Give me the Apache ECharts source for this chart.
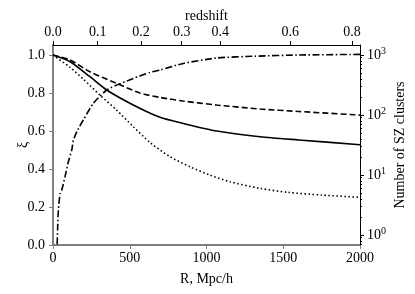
<!DOCTYPE html>
<html>
<head>
<meta charset="utf-8">
<script src="https://cdn.jsdelivr.net/npm/echarts@6/dist/echarts.min.js"></script>
<style>html,body{margin:0;padding:0;background:#fff}#c{width:415px;height:294px}</style>
</head>
<body>
<div id="c"></div>
<script>
// ---- data ----
var solidR   = [0,111,241,350,523,697,849,1066,1349,1600,2000];
var solidXi  = [1.0,0.965,0.886,0.816,0.737,0.672,0.64,0.60,0.57,0.553,0.528];
var dashedR  = [0,111,241,415,567,697,849,1066,1349,1600,2000];
var dashedXi = [1.0,0.974,0.912,0.851,0.80,0.777,0.758,0.737,0.716,0.703,0.684];
var dottedR  = [0,111,198,306,415,523,632,762,892,1023,1153,1349,1533,1750,2000];
var dottedXi = [1.0,0.935,0.873,0.789,0.71,0.623,0.54,0.465,0.412,0.368,0.333,0.298,0.277,0.263,0.251];
var clustersR = [27,30,35,46,57,78,100,122,133,160,198,263,350,426,523,632,697,849,1066,1316,1600,2000];
var clustersN = [0.7,1.26,2.6,4.9,5.6,9.3,16.6,26,38,56,83,157,261,324,407,513,562,724,891,955,1000,1023];
var xiTicks = [0,0.2,0.4,0.6,0.8,1.0];
var nTicks = [1,10,100,1000];
var nMinorTicks = [0.7,0.8,0.9,2,3,4,5,6,7,8,9,20,30,40,50,60,70,80,90,200,300,400,500,600,700,800,900];
var redshiftLabels = ['0.0','0.1','0.2','0.3','0.4','0.6','0.8'];
var redshiftR = [0,291,573,838,1090,1545,1948];

function pairs(xs, ys){ return xs.map(function(x,i){ return [x, ys[i]]; }); }

var FONT = 'Liberation Serif';
var FS = 14;
var GRAY = '#7f7f7f';
var chart = echarts.init(document.getElementById('c'), null, {renderer:'canvas'});
chart.setOption({
  animation: false,
  textStyle: {fontFamily: FONT, color: '#000'},
  grid: {left: 53, right: 55, top: 45, bottom: 49, containLabel:false, outerBoundsMode:'none'},
  xAxis: [
    {type:'value', min:0, max:2000, interval:500, position:'bottom',
     name:'R, Mpc/h', nameLocation:'middle', nameGap:27, nameMoveOverlap:false,
     nameTextStyle:{fontFamily:FONT, fontSize:FS, color:'#000'},
     axisLine:{lineStyle:{color:GRAY, width:2}},
     axisTick:{length:4, lineStyle:{color:GRAY, width:1}},
     axisLabel:{fontFamily:FONT, fontSize:FS, color:'#000', margin:6,
       formatter:function(v){ return String(v); }},
     splitLine:{show:false}},
    {type:'value', min:0, max:2000, position:'top',
     name:'redshift', nameLocation:'middle', nameGap:22, nameMoveOverlap:false,
     nameTextStyle:{fontFamily:FONT, fontSize:FS, color:'#000'},
     axisLine:{onZero:false, lineStyle:{color:'#000', width:1}},
     axisTick:{length:4, customValues: redshiftR, lineStyle:{color:'#000'}},
     axisLabel:{fontFamily:FONT, fontSize:FS, color:'#000', margin:6, customValues: redshiftR,
       formatter:function(v){ var i = redshiftR.indexOf(v); return i>=0 ? redshiftLabels[i] : ''; }},
     splitLine:{show:false}}
  ],
  yAxis: [
    {type:'value', min:0, max:1.053, position:'left',
     name:'ξ', nameLocation:'middle', nameGap:23, nameRotate:90, nameMoveOverlap:false,
     nameTextStyle:{fontFamily:FONT, fontSize:FS, color:'#000'},
     axisLine:{lineStyle:{color:GRAY, width:2}},
     axisTick:{length:4, customValues: xiTicks, lineStyle:{color:GRAY}},
     axisLabel:{fontFamily:FONT, fontSize:FS, color:'#000', margin:8, customValues: xiTicks,
       formatter:function(v){ return v.toFixed(1); }},
     splitLine:{show:false}},
    {type:'log', logBase:10, min:0.68, max:1468, position:'right',
     name:'Number of SZ clusters', nameLocation:'middle', nameGap:33, nameRotate:90, nameMoveOverlap:false,
     nameTextStyle:{fontFamily:FONT, fontSize:FS, color:'#000'},
     axisLine:{onZero:false, lineStyle:{color:'#000', width:1}},
     axisTick:{length:4, customValues: nTicks, lineStyle:{color:'#000'}},
     axisLabel:{fontFamily:FONT, fontSize:FS, color:'#000', margin:7, customValues: nTicks,
       formatter:function(v){ return '10{sup|' + Math.round(Math.log10(v)) + '}'; },
       rich:{sup:{fontFamily:FONT, fontSize:10, verticalAlign:'top', padding:[0,0,8,0]}}},
     splitLine:{show:false}},
    {type:'log', logBase:10, min:0.68, max:1468, position:'left', offset:-307,
     axisLine:{show:false},
     axisTick:{length:2, inside:true, customValues: nMinorTicks, lineStyle:{color:'#000'}},
     axisLabel:{show:false},
     splitLine:{show:false}}
  ],
  series: [
    {type:'line', xAxisIndex:0, yAxisIndex:0, data:pairs(solidR, solidXi), smooth:0.25, symbol:'none',
     lineStyle:{color:'#000', width:1.6, type:'solid'}},
    {type:'line', xAxisIndex:0, yAxisIndex:0, data:pairs(dashedR, dashedXi), smooth:0.25, symbol:'none',
     lineStyle:{color:'#000', width:1.6, type:[6,3]}},
    {type:'line', xAxisIndex:0, yAxisIndex:0, data:pairs(dottedR, dottedXi), smooth:0.25, symbol:'none',
     lineStyle:{color:'#000', width:1.6, type:[1.5,2.5]}},
    {type:'line', xAxisIndex:0, yAxisIndex:1, data:pairs(clustersR, clustersN), smooth:0.2, symbol:'none',
     lineStyle:{color:'#000', width:1.6, type:[7,2.5,1.5,2.5]}}
  ]
});
</script>
</body>
</html>
